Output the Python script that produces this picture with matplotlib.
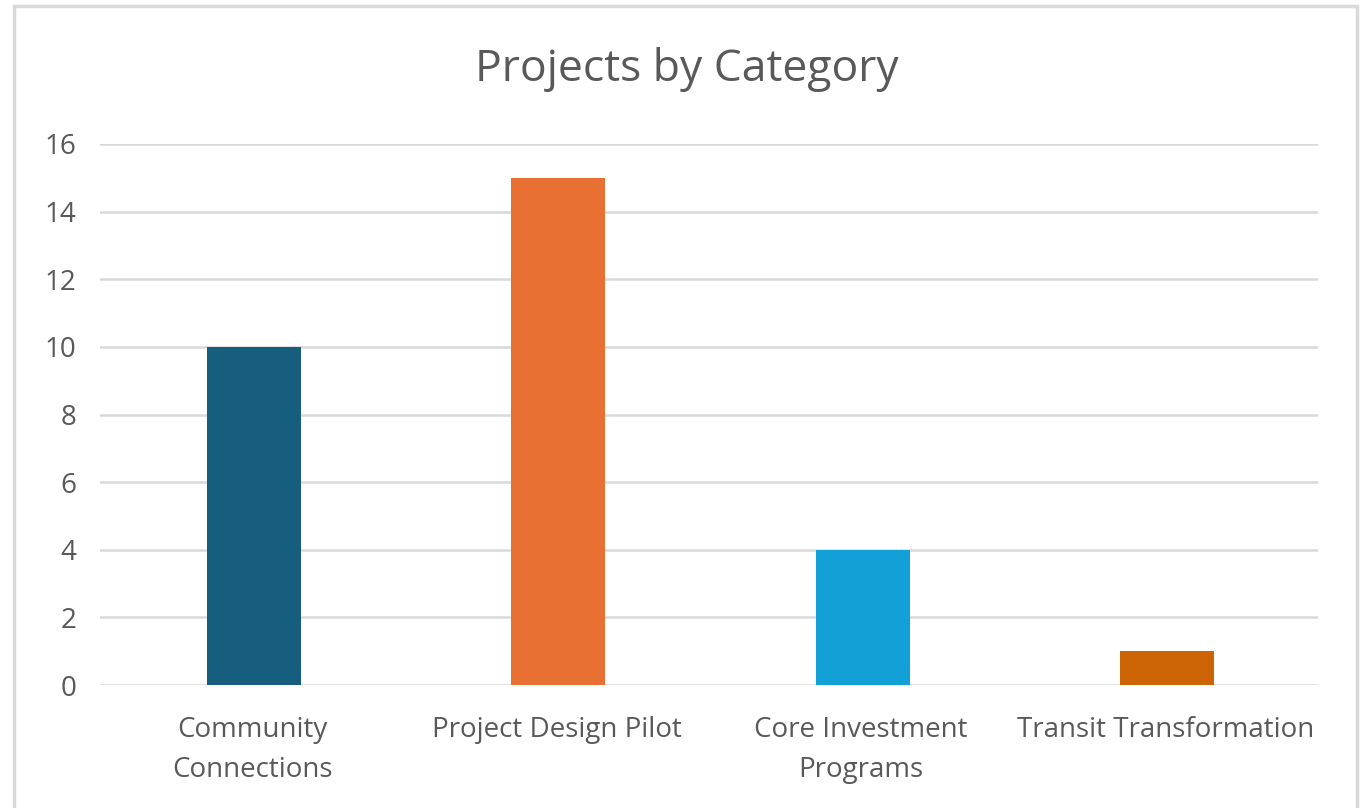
import matplotlib
matplotlib.use("Agg")
import matplotlib.pyplot as plt
from matplotlib.patches import Rectangle

# ── Data ────────────────────────────────────────────────
categories = ["Community\nConnections", "Project Design Pilot",
              "Core Investment\nPrograms", "Transit Transformation"]
counts = [10, 15, 4, 1]
bar_colors = ["#175E7E", "#E87032", "#12A0D7", "#CC6405"]
y_ticks = [0, 2, 4, 6, 8, 10, 12, 14, 16]

TEXT = "#595959"
GRID = "#D9D9D9"
plt.rcParams["font.family"] = ["Open Sans", "DejaVu Sans"]

fig = plt.figure(figsize=(13.65, 8.08), dpi=100)
ax = fig.add_axes([100 / 1365, 123 / 808, 1218 / 1365, 541 / 808])

x = range(len(categories))
ax.bar([i + 0.005 for i in x], counts, width=0.31, color=bar_colors, zorder=3)

ax.set_xlim(-0.5, len(categories) - 0.5)
ax.set_ylim(0, 16)
ax.set_yticks(y_ticks)
ax.set_xticks(list(x))
ax.set_xticklabels(categories, linespacing=1.6)
ax.tick_params(axis="both", length=0, labelsize=20, colors=TEXT)
ax.tick_params(axis="y", pad=17)
ax.tick_params(axis="x", pad=22)
ax.grid(axis="y", color=GRID, linewidth=1.8, zorder=0)
for s in ax.spines.values():
    s.set_visible(False)

fig.text(687 / 1365, 1 - 70 / 808, "Projects by Category", ha="center", va="center",
         fontsize=32, color=TEXT)

# chart border
fig.patches.append(Rectangle((14 / 1365, -0.01), 1343 / 1365, 1 - 6 / 808 + 0.01,
                             transform=fig.transFigure, fill=False,
                             edgecolor=GRID, linewidth=2.5))

fig.savefig("out.png", dpi=100)
